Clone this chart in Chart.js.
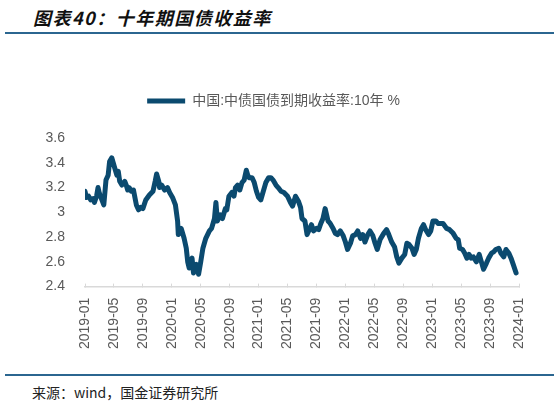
<!DOCTYPE html>
<html>
<head>
<meta charset="utf-8">
<script src="https://cdn.jsdelivr.net/npm/chart.js@4"></script>
<style>
  html, body { margin: 0; padding: 0; background: #fff; }
  body { width: 559px; height: 404px; position: relative; overflow: hidden; }
  .title {
    position: absolute; left: 33px; top: 4px;
    font: italic bold 18px 'Noto Sans CJK SC', sans-serif;
    letter-spacing: 1.5px; color: #111;
  }
  .rule { position: absolute; left: 5px; width: 549px; height: 2px; background: #2b6690; }
  .source {
    position: absolute; left: 32px; top: 382px;
    font: 14px 'Noto Sans CJK SC', sans-serif; color: #222;
  }
  .box { position: absolute; left: 0; top: 80px; width: 559px; height: 283px; }
</style>
</head>
<body>
<div class="title">图表40：十年期国债收益率</div>
<div class="rule" style="top:32px"></div>
<div class="box"><canvas id="line-chart"></canvas></div>
<div class="rule" style="top:374px"></div>
<div class="source">来源：wind，国金证券研究所</div>

<script>
// x 축 눈금 라벨 (4개월 간격)
var tickLabels = ['2019-01', '2019-05', '2019-09', '2020-01', '2020-05', '2020-09',
  '2021-01', '2021-05', '2021-09', '2022-01', '2022-05', '2022-09',
  '2023-01', '2023-05', '2023-09', '2024-01'];

// 2019-01 부터 지난 개월 수
var months = [
  0, 0.2, 0.5, 0.8, 1.1, 1.3, 1.6, 1.8, 2.0, 2.2, 2.6, 2.9, 3.2, 3.4, 3.7, 3.9,
  4.1, 4.4, 4.6, 4.8, 5.1, 5.5, 5.7, 5.9, 6.1, 6.4, 6.7, 7.1, 7.4, 7.7, 8.0, 8.4,
  8.9, 9.4, 9.7, 9.9, 10.2, 10.3, 10.6, 11.0, 11.4, 11.7, 12.1, 12.5, 12.8, 12.9,
  13.3, 13.7, 14.0, 14.2, 14.4, 14.8, 15.0, 15.4, 15.7, 16.0, 16.3, 16.7, 17.2,
  17.5, 17.9, 18.1, 18.3, 18.7, 19.0, 19.4, 19.6, 19.9, 20.3, 20.6, 20.8, 21.1,
  21.4, 21.7, 22.0, 22.3, 22.5, 22.7, 23.1, 23.4, 23.7, 24.0, 24.3, 24.6, 25.0,
  25.4, 25.7, 26.0, 26.4, 26.7, 27.1, 27.5, 28.0, 28.4, 28.7, 29.1, 29.5, 29.8,
  30.0, 30.4, 30.7, 31.0, 31.3, 31.6, 32.0, 32.3, 32.6, 32.9, 33.2, 33.6, 33.9,
  34.3, 34.6, 34.9, 35.3, 35.7, 36.0, 36.3, 36.7, 37.0, 37.4, 37.7, 38.1, 38.4,
  38.7, 39.1, 39.4, 39.8, 40.1, 40.4, 40.8, 41.3, 41.7, 42.0, 42.4, 42.8, 43.1,
  43.4, 43.8, 44.2, 44.5, 44.8, 45.2, 45.5, 45.8, 46.1, 46.5, 46.8, 47.1, 47.5,
  47.8, 48.1, 48.5, 48.8, 49.2, 49.5, 50.0, 50.4, 50.9, 51.3, 51.6, 51.8, 52.2,
  52.5, 52.8, 53.1, 53.4, 53.7, 54.1, 54.5, 54.8, 55.1, 55.5, 55.8, 56.2, 56.5,
  56.8, 57.2, 57.5, 57.9, 58.2, 58.6, 58.9, 59.2, 59.6
];

// 중국 10년 국채 수익률 (%)
var yields = [
  3.17, 3.12, 3.13, 3.10, 3.11, 3.08, 3.13, 3.20, 3.15, 3.12, 3.06, 3.26, 3.30, 3.41, 3.44, 3.40,
  3.36, 3.30, 3.33, 3.25, 3.22, 3.25, 3.22, 3.18, 3.20, 3.17, 3.18, 3.06, 3.02, 3.04, 3.03, 3.10,
  3.14, 3.17, 3.25, 3.31, 3.25, 3.20, 3.22, 3.18, 3.20, 3.16, 3.12, 3.06, 2.93, 2.82,
  2.87, 2.79, 2.71, 2.60, 2.55, 2.63, 2.51, 2.58, 2.50, 2.60, 2.71, 2.79, 2.85,
  2.87, 2.95, 3.08, 2.93, 2.98, 2.95, 3.03, 3.02, 3.13, 3.16, 3.13, 3.20, 3.22,
  3.18, 3.24, 3.26, 3.34, 3.30, 3.28, 3.28, 3.24, 3.17, 3.12, 3.10, 3.16, 3.24,
  3.28, 3.28, 3.26, 3.22, 3.20, 3.17, 3.16, 3.13, 3.08, 3.05, 3.13, 3.09, 3.04,
  2.95, 2.93, 2.82, 2.86, 2.90, 2.85, 2.87, 2.86, 2.91, 2.95, 3.03, 2.93, 2.91,
  2.87, 2.83, 2.82, 2.85, 2.81, 2.76, 2.70, 2.75, 2.81, 2.82, 2.85, 2.79, 2.82,
  2.76, 2.82, 2.85, 2.81, 2.75, 2.70, 2.78, 2.83, 2.86, 2.82, 2.76, 2.72, 2.64,
  2.59, 2.63, 2.66, 2.75, 2.74, 2.71, 2.66, 2.70, 2.79, 2.87, 2.90, 2.86, 2.82,
  2.85, 2.93, 2.93, 2.91, 2.91, 2.91, 2.87, 2.86, 2.83, 2.79, 2.78, 2.71, 2.70,
  2.67, 2.63, 2.66, 2.63, 2.64, 2.60, 2.66, 2.60, 2.54, 2.59, 2.63, 2.67, 2.68,
  2.70, 2.71, 2.67, 2.64, 2.70, 2.67, 2.63, 2.58, 2.51
];

var seriesName = '中国:中债国债到期收益率:10年 %';
var lineColor = '#0b4a6f';

Chart.defaults.font.family = "'Liberation Sans', 'Noto Sans CJK SC', sans-serif";
Chart.defaults.color = '#595959';

var points = months.map(function (m, i) {
  return { x: m, y: yields[i] };
});

// 범례 아래에 여백 추가
var legendGap = {
  id: 'legendGap',
  beforeInit: function (chart) {
    var fit = chart.legend.fit;
    chart.legend.fit = function () {
      fit.call(this);
      this.height += 20;
    };
  }
};

new Chart(document.getElementById('line-chart'), {
  type: 'line',
  data: {
    datasets: [
      {
        label: seriesName,
        data: points,
        borderColor: lineColor,
        backgroundColor: lineColor,
        borderWidth: 5,
        borderCapStyle: 'round',
        borderJoinStyle: 'round',
        pointRadius: 0,
        tension: 0
      }
    ]
  },
  options: {
    responsive: true,
    maintainAspectRatio: false,
    animation: false,
    layout: {
      padding: { left: 28, right: 40, top: 0, bottom: 0 }
    },
    plugins: {
      legend: {
        labels: {
          usePointStyle: true,
          pointStyle: 'line',
          pointStyleWidth: 38,
          font: { size: 14 },
          color: '#595959',
          padding: 14
        }
      },
      tooltip: { enabled: false }
    },
    scales: {
      x: {
        type: 'linear',
        min: 0,
        max: 60,
        afterBuildTicks: function (scale) {
          scale.ticks = tickLabels.map(function (t, i) {
            return { value: i * 4 };
          });
        },
        ticks: {
          autoSkip: false,
          minRotation: 90,
          maxRotation: 90,
          font: { size: 14 },
          padding: 14,
          callback: function (v) {
            return tickLabels[Math.round(v / 4)];
          }
        },
        // 눈금 표시를 축선 위쪽으로
        grid: { drawOnChartArea: false, tickLength: -3, color: '#d9d9d9' },
        border: { color: '#d9d9d9', width: 1.5 }
      },
      y: {
        min: 2.4,
        max: 3.6,
        afterFit: function (scale) {
          scale.width = 57;
        },
        ticks: {
          stepSize: 0.2,
          font: { size: 14 },
          padding: 12,
          callback: function (v) {
            return String(+v.toFixed(1));
          }
        },
        grid: { display: false },
        border: { display: false }
      }
    }
  },
  plugins: [legendGap]
});
</script>
</body>
</html>
